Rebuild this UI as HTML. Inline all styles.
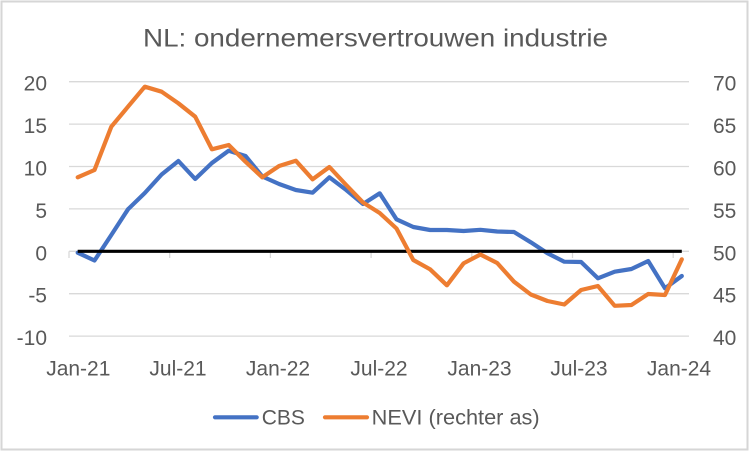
<!DOCTYPE html>
<html>
<head>
<meta charset="utf-8">
<style>
html,body{margin:0;padding:0;background:#fff;}
svg{display:block;}
text{font-family:"Liberation Sans",sans-serif;fill:#595959;}
</style>
</head>
<body>
<svg width="752" height="452" viewBox="0 0 752 452" xmlns="http://www.w3.org/2000/svg">
<rect x="0" y="0" width="752" height="452" fill="#fff"/>
<rect x="1.5" y="1.5" width="746" height="448" fill="none" stroke="#D6D6D6" stroke-width="2"/>

<text x="143" y="46.7" font-size="25" textLength="465" lengthAdjust="spacingAndGlyphs">NL: ondernemersvertrouwen industrie</text>

<!-- gridlines -->
<g stroke="#D9D9D9" stroke-width="1.3">
<line x1="69" y1="81.7" x2="689" y2="81.7"/>
<line x1="69" y1="124.1" x2="689" y2="124.1"/>
<line x1="69" y1="166.5" x2="689" y2="166.5"/>
<line x1="69" y1="208.9" x2="689" y2="208.9"/>
<line x1="69" y1="251.3" x2="689" y2="251.3"/>
<line x1="69" y1="293.7" x2="689" y2="293.7"/>
<line x1="69" y1="336.1" x2="689" y2="336.1"/>
<line x1="69" y1="251.3" x2="69" y2="258"/>
<line x1="169.7" y1="251.3" x2="169.7" y2="258"/>
<line x1="270.4" y1="251.3" x2="270.4" y2="258"/>
<line x1="371.1" y1="251.3" x2="371.1" y2="258"/>
<line x1="471.8" y1="251.3" x2="471.8" y2="258"/>
<line x1="572.5" y1="251.3" x2="572.5" y2="258"/>
<line x1="673.2" y1="251.3" x2="673.2" y2="258"/>
</g>

<!-- left axis labels -->
<g font-size="21" text-anchor="end">
<text x="47" y="90.7">20</text>
<text x="47" y="133.1">15</text>
<text x="47" y="175.5">10</text>
<text x="47" y="217.9">5</text>
<text x="47" y="260.3">0</text>
<text x="47" y="302.7">-5</text>
<text x="47" y="345.1">-10</text>
</g>
<!-- right axis labels -->
<g font-size="21">
<text x="713" y="90.7">70</text>
<text x="713" y="133.1">65</text>
<text x="713" y="175.5">60</text>
<text x="713" y="217.9">55</text>
<text x="713" y="260.3">50</text>
<text x="713" y="302.7">45</text>
<text x="713" y="345.1">40</text>
</g>
<!-- x labels -->
<g font-size="21" text-anchor="middle">
<text x="78.3" y="375.7">Jan-21</text>
<text x="178" y="375.7">Jul-21</text>
<text x="278" y="375.7">Jan-22</text>
<text x="379" y="375.7">Jul-22</text>
<text x="479.5" y="375.7">Jan-23</text>
<text x="579" y="375.7">Jul-23</text>
<text x="679" y="375.7">Jan-24</text>
</g>

<!-- CBS -->
<polyline fill="none" stroke="#4472C4" stroke-width="4.2" stroke-linejoin="round" stroke-linecap="round"
points="77.7,252.7 94.5,260.5 111.3,235 128.0,209.3 144.8,193 161.6,174.5 178.4,161 195.2,179 211.9,163 228.7,150.7 245.5,156 262.3,176.5 279.1,184 295.8,190 312.6,192.7 329.4,177.3 346.2,190 363.0,204 379.7,193.3 396.5,219.3 413.3,227 430.1,230 446.9,230 463.6,231 480.4,229.8 497.2,231.5 514.0,232 530.8,242.3 547.5,253.3 564.3,261.7 581.1,262 597.9,278.3 614.7,271.7 631.4,269 648.2,261 665.0,288.3 681.8,276"/>

<!-- zero line -->
<line x1="77.7" y1="251.3" x2="681.8" y2="251.3" stroke="#000" stroke-width="3.2"/>

<!-- NEVI -->
<polyline fill="none" stroke="#ED7D31" stroke-width="4.2" stroke-linejoin="round" stroke-linecap="round"
points="77.7,177.3 94.5,170 111.3,126.7 128.0,106.7 144.8,86.7 161.6,91.7 178.4,103.3 195.2,116.7 211.9,149.3 228.7,145 245.5,161.7 262.3,177.3 279.1,166 295.8,160.7 312.6,179.3 329.4,167 346.2,185 363.0,202.5 379.7,213 396.5,228.5 413.3,260 430.1,269.3 446.9,285.3 463.6,263.3 480.4,254.5 497.2,263 514.0,281.7 530.8,294.5 547.5,301 564.3,304.5 581.1,290 597.9,286 614.7,305.8 631.4,305 648.2,294 665.0,295 681.8,259.3"/>

<!-- legend -->
<line x1="215" y1="417.3" x2="256.7" y2="417.3" stroke="#4472C4" stroke-width="4.2" stroke-linecap="round"/>
<text x="261.7" y="424.5" font-size="21">CBS</text>
<line x1="325" y1="417.3" x2="367" y2="417.3" stroke="#ED7D31" stroke-width="4.2" stroke-linecap="round"/>
<text x="371.7" y="424.5" font-size="21" textLength="168" lengthAdjust="spacingAndGlyphs">NEVI (rechter as)</text>
</svg>
</body>
</html>
